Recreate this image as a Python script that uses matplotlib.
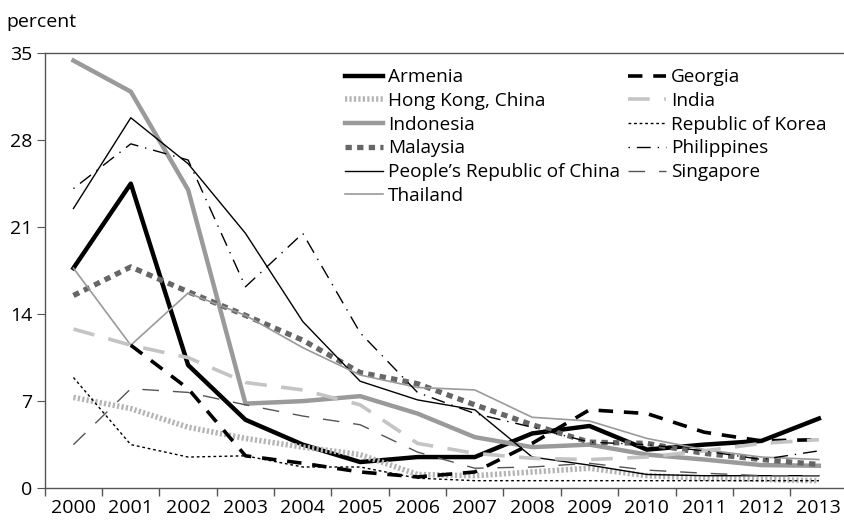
import numpy as np
import matplotlib
matplotlib.use('Agg')
import matplotlib.pyplot as plt

plt.rcParams['font.family'] = ['Open Sans', 'DejaVu Sans']

years = ['2000', '2001', '2002', '2003', '2004', '2005', '2006',
         '2007', '2008', '2009', '2010', '2011', '2012', '2013']

armenia = [17.7, 24.5, 9.9, 5.5, 3.5, 2.1, 2.5, 2.5, 4.4, 5.0, 3.1, 3.5, 3.8, 5.6]
hongkong = [7.3, 6.4, 4.9, 4.0, 3.3, 2.7, 1.1, 1.0, 1.3, 1.6, 1.0, 0.8, 0.7, 0.6]
indonesia = [34.4, 31.9, 24.0, 6.8, 7.0, 7.4, 6.0, 4.1, 3.3, 3.5, 2.7, 2.3, 1.85, 1.8]
malaysia = [15.5, 17.8, 15.8, 13.9, 11.9, 9.3, 8.4, 6.7, 5.1, 3.7, 3.6, 2.8, 2.3, 1.9]
prc = [22.5, 29.8, 26.1, 20.5, 13.4, 8.6, 7.1, 6.3, 2.5, 1.85, 1.1, 1.0, 1.0, 1.0]
thailand = [17.7, 11.5, 15.7, 13.9, 11.3, 9.1, 8.1, 7.9, 5.7, 5.4, 4.0, 3.1, 2.5, 2.3]
georgia = [np.nan, 11.5, 8.0, 2.6, 2.0, 1.3, 0.9, 1.3, 3.6, 6.3, 6.0, 4.5, 3.8, 3.9]
india = [12.8, 11.5, 10.5, 8.5, 7.9, 6.7, 3.6, 2.8, 2.4, 2.3, 2.5, 3.0, 3.6, 3.9]
korea = [8.9, 3.5, 2.5, 2.6, 1.7, 1.7, 0.8, 0.6, 0.6, 0.6, 0.6, 0.6, 0.6, 0.6]
philippines = [24.1, 27.7, 26.4, 16.2, 20.5, 12.5, 7.7, 6.0, 4.9, 3.7, 3.5, 3.0, 2.3, 3.0]
singapore = [3.5, 8.0, 7.7, 6.7, 5.8, 5.1, 2.9, 1.6, 1.7, 2.0, 1.45, 1.2, 1.0, 1.0]

fig = plt.figure(figsize=(8.45, 5.26), dpi=100)
ax = fig.add_axes([0.053, 0.072, 0.95, 0.827])

x = np.arange(len(years))

ax.plot(x, armenia, color='black', lw=3.2, label='Armenia')
ax.plot(x, hongkong, color='#b4b4b4', lw=4, ls=(0, (0.4, 0.4)), label='Hong Kong, China')
ax.plot(x, indonesia, color='#9a9a9a', lw=3.2, label='Indonesia')
ax.plot(x, malaysia, color='#666666', lw=3.8, ls=(0, (1.2, 1.0)), label='Malaysia')
ax.plot(x, prc, color='black', lw=1.0, label='People\u2019s Republic of China')
ax.plot(x, thailand, color='#9a9a9a', lw=1.2, label='Thailand')
ax.plot(x, georgia, color='black', lw=2.6, ls=(0, (4, 3)), label='Georgia')
ax.plot(x, india, color='#c4c4c4', lw=2.6, ls=(0, (6, 4)), label='India')
ax.plot(x, korea, color='black', lw=1.0, ls=(0, (2, 2)), label='Republic of Korea')
ax.plot(x, philippines, color='black', lw=1.0, ls=(0, (1, 5, 10, 5)), label='Philippines')
ax.plot(x, singapore, color='#555555', lw=1.0, ls=(0, (12, 10)), label='Singapore')

ax.set_xlim(-0.5, 13.5)
ax.set_ylim(0, 35)
ax.set_yticks([0, 7, 14, 21, 28, 35])
ax.set_xticks(x)
ax.set_xticklabels(years)
ax.set_xticks(np.arange(-0.5, 14, 1), minor=True)
ax.tick_params(axis='x', which='major', length=0, labelsize=14, pad=8)
ax.tick_params(axis='x', which='minor', length=6, color='#555555', width=1)
ax.tick_params(axis='y', length=6, color='#555555', labelsize=14, pad=3)

for s in ['left', 'bottom', 'top']:
    ax.spines[s].set_color('#555555')
    ax.spines[s].set_linewidth(1.0)
ax.spines['right'].set_visible(False)

fig.text(0.008, 0.958, 'percent', fontsize=14, va='center', ha='left')

ax.legend(ncol=2, loc='upper left', bbox_to_anchor=(0.355, 1.0), frameon=False,
          fontsize=13.7, handlelength=2.0, labelspacing=0.3, columnspacing=0.45,
          handletextpad=0.25, borderaxespad=0.4)

fig.savefig('out.png', dpi=100)
